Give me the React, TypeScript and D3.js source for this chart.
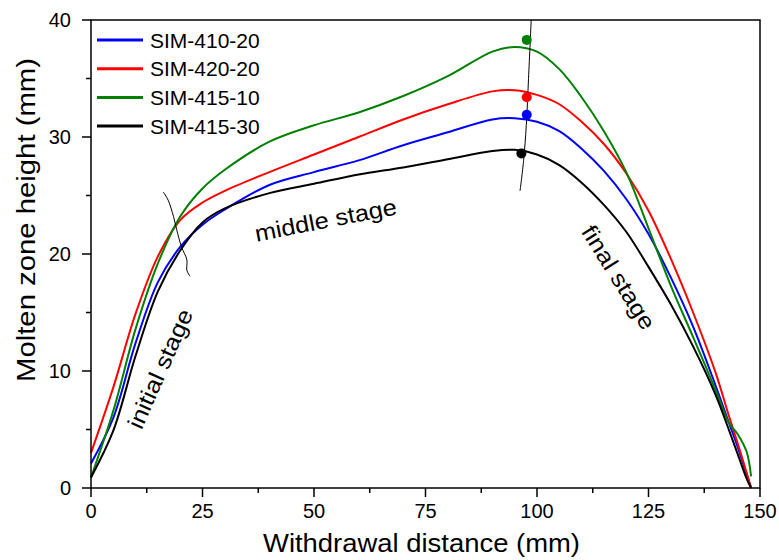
import * as d3 from "d3";

// withdrawal distance (mm), shared by every series
const distance = [0, 5, 10, 15, 20, 25, 30, 40, 50, 60, 70, 80, 90, 95, 100, 105, 110, 115, 120, 125, 130, 135, 140, 143, 145, 147, 148];

const sim410_20 = [2.1, 6.0, 12.4, 17.6, 20.6, 22.5, 23.8, 25.9, 27.0, 28.0, 29.3, 30.4, 31.5, 31.6, 31.3, 30.5, 29.0, 27.1, 24.7, 21.7, 18.0, 13.8, 8.8, 5.6, 3.5, 1.2, 0];
const sim420_20 = [3.0, 8.6, 14.9, 19.8, 22.9, 24.4, 25.4, 27.0, 28.5, 30.0, 31.5, 32.8, 33.9, 34.0, 33.6, 32.8, 31.3, 29.4, 26.9, 23.7, 19.6, 15.0, 9.9, 6.2, 3.8, 1.3, 0];
const sim415_10 = [0.9, 6.6, 13.6, 19.2, 23.2, 25.6, 27.2, 29.6, 31.0, 32.1, 33.5, 35.2, 37.3, 37.7, 37.3, 35.8, 33.4, 30.5, 27.0, 22.2, 17.3, 12.9, 8.4, 5.6, 4.6, 3.1, 1.0];
const sim415_30 = [0.9, 4.9, 11.3, 16.8, 20.3, 22.7, 23.9, 25.2, 26.0, 26.8, 27.4, 28.1, 28.8, 28.9, 28.5, 27.6, 26.1, 24.2, 21.9, 18.9, 15.7, 12.1, 8.0, 5.0, 2.9, 0.8, 0];

const seriesNames = ["SIM-410-20", "SIM-420-20", "SIM-415-10", "SIM-415-30"];
const seriesValues = [sim410_20, sim420_20, sim415_10, sim415_30];
const seriesColors = ["#0000ff", "#ff0000", "#008000", "#000000"];

// marked points on the peak line
const peakX = [97.7, 97.7, 97.7, 96.5];
const peakY = [31.9, 33.4, 38.3, 28.6];

// hand drawn boundary lines
const leftBoundX = [16.2, 17.3, 18.5, 19.2, 20.3, 21.5, 21.5, 22.2];
const leftBoundY = [25.3, 24.6, 23.2, 22.1, 20.6, 19.5, 18.6, 18.1];
const peakLineX = [98.7, 98.1, 97.6, 97.0, 96.2];
const peakLineY = [40, 35, 31, 28, 25.4];

const xMajor = [0, 25, 50, 75, 100, 125, 150];
const xMinor = [12.5, 37.5, 62.5, 87.5, 112.5, 137.5];
const yMajor = [0, 10, 20, 30, 40];
const yMinor = [5, 15, 25, 35];

const stageLabels = [
  { text: "initial stage", x: 15.5, y: 10.2, angle: -66, len: 128 },
  { text: "middle stage", x: 52.6, y: 22.9, angle: -11, len: 144 },
  { text: "final stage", x: 118.3, y: 18.0, angle: 58, len: 118 },
];

const FONT = "Arial, 'Liberation Sans', Helvetica, sans-serif";

export default function App() {
  const width = 779;
  const height = 560;
  const left = 91, right = 760, top = 20, bottom = 488;

  const x = d3.scaleLinear().domain([0, 150]).range([left, right]);
  const y = d3.scaleLinear().domain([0, 40]).range([bottom, top]);

  const line = d3
    .line<number>()
    .x((_, i) => x(distance[i]))
    .y((d) => y(d))
    .curve(d3.curveCatmullRom.alpha(0.5));

  const freeLine = d3
    .line<[number, number]>()
    .x((d) => x(d[0]))
    .y((d) => y(d[1]))
    .curve(d3.curveCatmullRom);

  const leftBound = leftBoundX.map((v, i) => [v, leftBoundY[i]] as [number, number]);
  const peakLine = peakLineX.map((v, i) => [v, peakLineY[i]] as [number, number]);

  return (
    <svg
      width={width}
      height={height}
      style={{ position: "absolute", left: 0, top: 0, background: "#fff" }}
      fontFamily={FONT}
    >
      {/* curves */}
      {seriesValues.map((vals, i) => (
        <path key={i} d={line(vals) ?? ""} fill="none" stroke={seriesColors[i]} strokeWidth={2} />
      ))}

      {/* boundary lines */}
      <path d={freeLine(leftBound) ?? ""} fill="none" stroke="#000" strokeWidth={1} />
      <path d={freeLine(peakLine) ?? ""} fill="none" stroke="#000" strokeWidth={1} />

      {peakX.map((px, i) => (
        <circle key={i} cx={x(px)} cy={y(peakY[i])} r={5} fill={seriesColors[i]} />
      ))}

      {/* stage labels */}
      {stageLabels.map((s) => (
        <text
          key={s.text}
          transform={`translate(${x(s.x)},${y(s.y)}) rotate(${s.angle})`}
          textAnchor="middle"
          dominantBaseline="central"
          fontSize={23}
          textLength={s.len}
          lengthAdjust="spacingAndGlyphs"
          fill="#000"
        >
          {s.text}
        </text>
      ))}

      {/* frame */}
      <rect x={left} y={top} width={right - left} height={bottom - top} fill="none" stroke="#000" strokeWidth={1.5} />

      {/* x axis ticks */}
      {xMajor.map((t) => (
        <g key={"xM" + t}>
          <line x1={x(t)} x2={x(t)} y1={bottom} y2={bottom + 9} stroke="#000" strokeWidth={1.5} />
          <text x={x(t)} y={bottom + 30} textAnchor="middle" fontSize={20}>
            {t}
          </text>
        </g>
      ))}
      {xMinor.map((t) => (
        <line key={"xm" + t} x1={x(t)} x2={x(t)} y1={bottom} y2={bottom + 5} stroke="#000" strokeWidth={1.5} />
      ))}

      {/* y axis ticks */}
      {yMajor.map((t) => (
        <g key={"yM" + t}>
          <line x1={left - 9} x2={left} y1={y(t)} y2={y(t)} stroke="#000" strokeWidth={1.5} />
          <text x={left - 20} y={y(t) + 7} textAnchor="end" fontSize={20}>
            {t}
          </text>
        </g>
      ))}
      {yMinor.map((t) => (
        <line key={"ym" + t} x1={left - 5} x2={left} y1={y(t)} y2={y(t)} stroke="#000" strokeWidth={1.5} />
      ))}

      {/* axis titles */}
      <text
        x={421.5}
        y={552}
        textAnchor="middle"
        fontSize={25}
        textLength={317}
        lengthAdjust="spacingAndGlyphs"
      >
        Withdrawal distance (mm)
      </text>
      <text
        transform={`translate(35,220) rotate(-90)`}
        textAnchor="middle"
        fontSize={25}
        textLength={324}
        lengthAdjust="spacingAndGlyphs"
      >
        Molten zone height (mm)
      </text>

      {/* legend */}
      {seriesNames.map((name, i) => (
        <g key={name} transform={`translate(97,${40 + i * 28.7})`}>
          <line x1={0} x2={46} y1={0} y2={0} stroke={seriesColors[i]} strokeWidth={3} />
          <text x={53} y={7.5} fontSize={21}>
            {name}
          </text>
        </g>
      ))}
    </svg>
  );
}
